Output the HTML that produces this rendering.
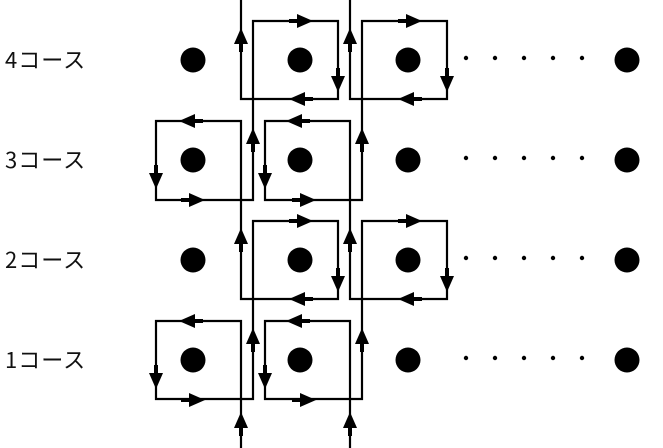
<!DOCTYPE html>
<html><head><meta charset="utf-8"><style>
html,body{margin:0;padding:0;background:#fff;}
#c{position:relative;width:663px;height:448px;overflow:hidden;}
.l{position:absolute;left:5px;font-family:"Noto Sans CJK JP","Liberation Sans",sans-serif;font-size:22px;color:#111;line-height:22px;letter-spacing:1px;}
svg{position:absolute;left:0;top:0;}
</style></head><body><div id="c">
<div class="l" style="top:48px">4コース</div>
<div class="l" style="top:148px">3コース</div>
<div class="l" style="top:248px">2コース</div>
<div class="l" style="top:348px">1コース</div>
<svg id="s" width="663" height="448" xmlns="http://www.w3.org/2000/svg">
<g fill="#000">
<circle cx="193" cy="60" r="12.5"/><circle cx="300" cy="60" r="12.5"/><circle cx="408" cy="60" r="12.5"/><circle cx="627" cy="60" r="12.5"/>
<circle cx="193" cy="160" r="12.5"/><circle cx="300" cy="160" r="12.5"/><circle cx="408" cy="160" r="12.5"/><circle cx="627" cy="160" r="12.5"/>
<circle cx="193" cy="260" r="12.5"/><circle cx="300" cy="260" r="12.5"/><circle cx="408" cy="260" r="12.5"/><circle cx="627" cy="260" r="12.5"/>
<circle cx="193" cy="360" r="12.5"/><circle cx="300" cy="360" r="12.5"/><circle cx="408" cy="360" r="12.5"/><circle cx="627" cy="360" r="12.5"/>
</g>
<g fill="none" stroke="#000" stroke-width="2.2">
<polyline points="241,448 241,321 156,321 156,399 253,399 253,221 338,221 338,299 241,299 241,121 156,121 156,200 253,200 253,21 338,21 338,99 241,99 241,0"/>
<polyline points="350,448 350,321 265,321 265,399 362,399 362,221 447,221 447,299 350,299 350,121 265,121 265,200 362,200 362,21 447,21 447,99 350,99 350,0"/>
</g>
<g id="ar" fill="#000"></g>
<g id="sd" fill="#000"></g>
</svg>
<script>
var ar=document.getElementById('ar'),sd=document.getElementById('sd'),ns="http://www.w3.org/2000/svg";
function A(x,y,d){var L=16,W=7,p;
if(d=='u')p=[x,y,x-W,y+L,x+W,y+L];
if(d=='d')p=[x,y,x-W,y-L,x+W,y-L];
if(d=='r')p=[x,y,x-L,y-W,x-L,y+W];
if(d=='l')p=[x,y,x+L,y-W,x+L,y+W];
var e=document.createElementNS(ns,'polygon');e.setAttribute('points',p.join(' '));ar.appendChild(e);
var t=document.createElementNS(ns,'rect');
if(d=='u')t.setAttribute('x',x-2),t.setAttribute('y',y+L),t.setAttribute('width',4),t.setAttribute('height',8);
if(d=='d')t.setAttribute('x',x-2),t.setAttribute('y',y-L-8),t.setAttribute('width',4),t.setAttribute('height',8);
if(d=='r')t.setAttribute('x',x-L-8),t.setAttribute('y',y-2),t.setAttribute('width',8),t.setAttribute('height',4);
if(d=='l')t.setAttribute('x',x+L),t.setAttribute('y',y-2),t.setAttribute('width',8),t.setAttribute('height',4);
ar.appendChild(t);}
[0,200].forEach(function(o){
 [0,109].forEach(function(dx){
  A(241+dx,28+o,'u');A(313+dx,21+o,'r');A(338+dx,92+o,'d');A(289+dx,99+o,'l');
 });
 A(179,121+o,'l');A(156,189+o,'d');A(205,200+o,'r');A(253,128+o,'u');
 A(286,121+o,'l');A(265,189+o,'d');A(316,200+o,'r');A(362,128+o,'u');
});
A(241,412,'u');A(350,412,'u');
[60,160,260,360].forEach(function(y){[466,495,524,553,582].forEach(function(x){
var c=document.createElementNS(ns,'circle');c.setAttribute('cx',x);c.setAttribute('cy',y-2);c.setAttribute('r',2.2);sd.appendChild(c);});});
</script>
</div></body></html>
